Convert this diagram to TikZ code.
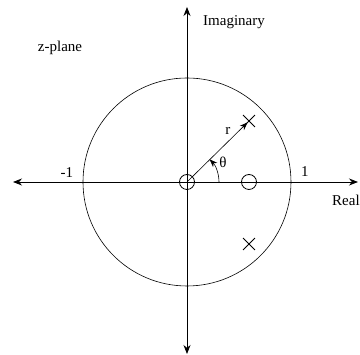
\documentclass[tikz,border=0pt]{standalone}
\usepackage{fontspec}
\setmainfont{Liberation Serif}
\usetikzlibrary{arrows.meta,shapes.misc}

\begin{document}
\begin{tikzpicture}[x=1pt,y=1pt,
    font=\fontsize{15}{18}\selectfont,
    axis/.style={{Stealth[length=9pt,width=7pt]}-{Stealth[length=9pt,width=7pt]},line width=0.8pt},
    zero/.style={draw,circle,line width=0.8pt,minimum size=15pt,inner sep=0pt},
    pole/.style={draw,cross out,line width=0.9pt,minimum size=11pt,inner sep=0pt},
    lbl/.style={inner sep=0pt},
    arr/.style={-{Stealth[length=8pt,width=6pt]},line width=0.6pt}
  ]
    \useasboundingbox (-187,-173) rectangle (173,182);
    % axes
    \coordinate (west) at (-174,0);
    \coordinate (east) at (171,0);
    \coordinate (north) at (0,175);
    \coordinate (south) at (0,-172);
    \draw[axis] (west) -- (east);
    \draw[axis] (south) -- (north);
    % unit circle
    \coordinate (origin) at (0,0);
    \draw[line width=0.6pt] (origin) circle (104);
    % zeros and poles
    \node[zero] (zeroA) at (0,0) {};
    \node[zero] (zeroB) at (62,0) {};
    \node[pole] (poleA) at (62,61) {};
    \node[pole] (poleB) at (62,-62) {};
    \draw[arr,shorten >=2pt] (zeroA.center) -- (poleA.center);
    \coordinate (thetastart) at (32,0);
    \draw[arr] (thetastart) arc[start angle=0,end angle=45,radius=32];
    % labels
    \node[lbl,anchor=west] (imag) at (16,160) {Imaginary};
    \node[lbl] (plane) at (-127,134) {z-plane};
    \node[lbl] (minusone) at (-120,9) {-1};
    \node[lbl] (plusone) at (118,10) {1};
    \node[lbl,anchor=west] (real) at (145,-18) {Real};
    \node[lbl] (rlabel) at (41,51) {r};
    \node[lbl] (theta) at (36,20) {θ};
\end{tikzpicture}
\end{document}
